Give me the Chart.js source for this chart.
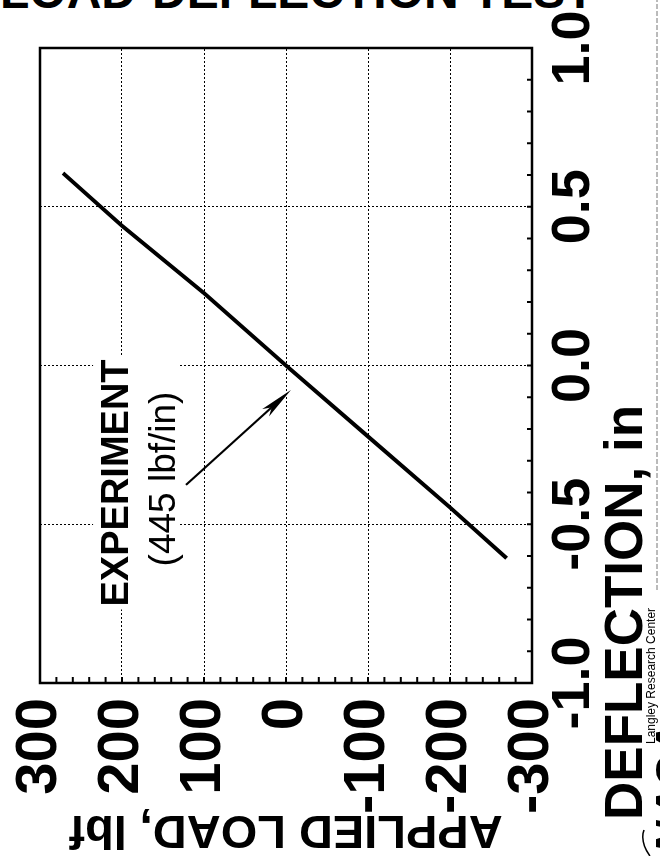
<!DOCTYPE html>
<html>
<head>
<meta charset="utf-8">
<script src="https://cdn.jsdelivr.net/npm/chart.js@4.4.1/dist/chart.umd.min.js"></script>
<style>
html, body { margin: 0; padding: 0; background: #fff; width: 660px; height: 856px; overflow: hidden; position: relative; }
#wrap { position: absolute; left: 0; top: 0; width: 856px; height: 660px; transform-origin: 0 0; transform: translateY(856px) rotate(-90deg); }
#cut { position: absolute; left: 0; top: -33px; font: bold 48px "Liberation Sans", Arial, sans-serif; line-height: 50px; white-space: nowrap; color: #000; }
</style>
</head>
<body>
<div id="cut">LOAD-DEFLECTION TEST</div>
<div id="wrap"><canvas id="chart" width="856" height="660"></canvas></div>
<script>
// measured curve, deflection (in) vs applied load (lbf)
var deflection = [-0.607, -0.447, -0.226, 0.0, 0.228, 0.44, 0.606];
var load = [-269, -200, -101, 0, 100, 200, 272];

var deflTicks = [-1, -0.5, 0, 0.5, 1];
var loadTicks = [300, 200, 100, 0, -100, -200, -300];

var xTitle = 'DEFLECTION, in';
var yTitle = 'APPLIED LOAD, lbf';
var noteTitle = 'EXPERIMENT';
var noteRate = '(445 lbf/in)';
var noteAt = [-0.37, 206];
var arrowFrom = [-0.376, 122];
var arrowTo = [-0.077, -6];

var points = deflection.map(function (d, i) {
	return { x: d, y: load[i] };
});

var font = '"Liberation Sans", Arial, Helvetica, sans-serif';

var decor = {
	id: 'decor',
	afterDatasetsDraw: function (chart) {
		var ctx = chart.ctx, xs = chart.scales.x, ys = chart.scales.y;
		var cx = xs.getPixelForValue(noteAt[0]);
		var cy = ys.getPixelForValue(noteAt[1]);
		ctx.save();
		ctx.font = 'bold 38px ' + font;
		var w1 = ctx.measureText(noteTitle).width;
		ctx.font = '37px ' + font;
		var w2 = ctx.measureText(noteRate).width;
		var w = Math.max(w1, w2);
		// white box behind the label
		ctx.fillStyle = '#fff';
		ctx.fillRect(cx - w / 2 - 3, cy - 24, w + 6, 86);
		ctx.fillStyle = '#000';
		ctx.textAlign = 'center';
		ctx.textBaseline = 'middle';
		ctx.font = 'bold 38px ' + font;
		ctx.fillText(noteTitle, cx, cy);
		ctx.font = '37px ' + font;
		ctx.fillText(noteRate, cx + 4, cy + 48);

		// arrow
		var x0 = xs.getPixelForValue(arrowFrom[0]), y0 = ys.getPixelForValue(arrowFrom[1]);
		var x1 = xs.getPixelForValue(arrowTo[0]), y1 = ys.getPixelForValue(arrowTo[1]);
		var c = Math.cos(Math.atan2(y1 - y0, x1 - x0)), s = Math.sin(Math.atan2(y1 - y0, x1 - x0));
		ctx.strokeStyle = '#000';
		ctx.lineWidth = 2;
		ctx.beginPath();
		ctx.moveTo(x0, y0);
		ctx.lineTo(x1 - 14 * c, y1 - 14 * s);
		ctx.stroke();
		ctx.beginPath();
		ctx.moveTo(x1, y1);
		ctx.lineTo(x1 - 34 * c + 5 * s, y1 - 34 * s - 5 * c);
		ctx.lineTo(x1 - 26 * c, y1 - 26 * s);
		ctx.lineTo(x1 - 34 * c - 5 * s, y1 - 34 * s + 5 * c);
		ctx.closePath();
		ctx.fill();
		ctx.restore();
	},
	afterDraw: function (chart) {
		var ctx = chart.ctx, a = chart.chartArea, xs = chart.scales.x, ys = chart.scales.y;
		ctx.save();
		ctx.strokeStyle = '#000';
		ctx.lineWidth = 2;
		// small inward ticks, every 20 lbf and every 0.1 in
		for (var v = -280; v < 300; v += 20) {
			var py = ys.getPixelForValue(v);
			ctx.beginPath();
			ctx.moveTo(a.left, py);
			ctx.lineTo(a.left + 6, py);
			ctx.stroke();
		}
		for (var d = -9; d <= 9; d++) {
			var px = xs.getPixelForValue(d / 10);
			ctx.beginPath();
			ctx.moveTo(px, a.bottom);
			ctx.lineTo(px, a.bottom - 5);
			ctx.stroke();
		}
		ctx.lineWidth = 2.5;
		ctx.strokeRect(a.left, a.top, a.right - a.left, a.bottom - a.top);

		// x axis title, set off to the left as on the slide
		ctx.fillStyle = '#000';
		ctx.textAlign = 'left';
		ctx.textBaseline = 'middle';
		ctx.font = 'bold 53px ' + font;
		ctx.fillText(xTitle, 36, 627);

		// page edge bits
		ctx.strokeStyle = '#777';
		ctx.lineWidth = 1;
		ctx.setLineDash([5, 2]);
		ctx.beginPath();
		ctx.moveTo(266, 657);
		ctx.lineTo(856, 657);
		ctx.stroke();
		ctx.setLineDash([]);
		ctx.textBaseline = 'top';
		ctx.font = 'italic bold 46px ' + font;
		ctx.fillText('NASA', 2, 652);
		ctx.font = '12px ' + font;
		ctx.fillText('Langley Research Center', 112, 646);
		ctx.strokeStyle = '#000';
		ctx.lineWidth = 1.5;
		ctx.beginPath();
		ctx.moveTo(0, 650);
		ctx.quadraticCurveTo(14, 640, 26, 644);
		ctx.stroke();
		ctx.restore();
	}
};

var ctx = document.getElementById('chart').getContext('2d');
var chart = new Chart(ctx, {
	type: 'scatter',
	data: {
		datasets: [{
			label: noteTitle,
			data: points,
			showLine: true,
			borderColor: '#000',
			borderWidth: 4,
			pointRadius: 0,
			tension: 0
		}]
	},
	options: {
		responsive: false,
		animation: false,
		layout: { padding: { top: 40, right: 48, left: 0, bottom: 0 } },
		plugins: { legend: { display: false }, tooltip: { enabled: false } },
		scales: {
			x: {
				type: 'linear',
				min: -1,
				max: 1,
				afterBuildTicks: function (scale) {
					scale.ticks = deflTicks.map(function (v) { return { value: v }; });
				},
				afterFit: function (scale) {
					scale.height = 128;
					scale.paddingLeft = 0;
					scale.paddingRight = 0;
				},
				grid: { color: '#000', lineWidth: 1, drawTicks: false },
				border: { display: false, dash: [2, 2] },
				ticks: {
					color: '#000',
					padding: 10,
					maxRotation: 0,
					autoSkip: false,
					font: { family: font, size: 54, weight: 'bold' },
					callback: function (v) { return Number(v).toFixed(1); }
				}
			},
			y: {
				type: 'linear',
				min: -300,
				max: 300,
				afterBuildTicks: function (scale) {
					scale.ticks = loadTicks.map(function (v) { return { value: v }; });
				},
				afterFit: function (scale) {
					scale.width = 173;
					scale.paddingTop = 0;
					scale.paddingBottom = 0;
				},
				grid: { color: '#000', lineWidth: 1, drawTicks: false },
				border: { display: false, dash: [2, 2] },
				ticks: {
					color: '#000',
					padding: 15,
					autoSkip: false,
					font: { family: font, size: 58, weight: 'bold', lineHeight: 1 }
				},
				title: {
					display: true,
					text: yTitle,
					color: '#000',
					font: { family: font, size: 47, weight: 'bold', lineHeight: 1 },
					padding: { top: 4, bottom: 0 }
				}
			}
		}
	},
	plugins: [decor]
});
</script>
</body>
</html>
